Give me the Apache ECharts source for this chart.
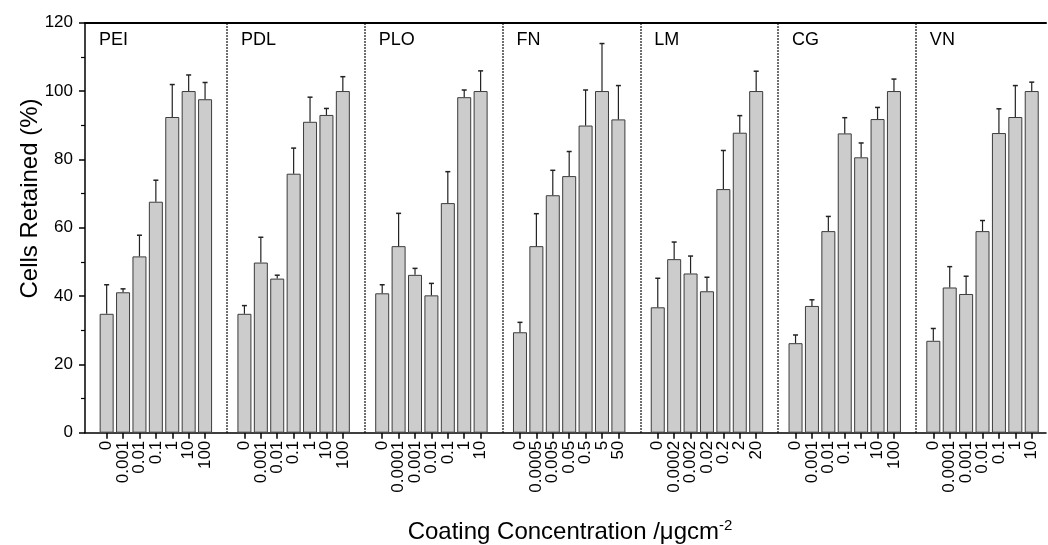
<!DOCTYPE html>
<html>
<head>
<meta charset="utf-8">
<script src="https://cdn.jsdelivr.net/npm/echarts@6/dist/echarts.min.js"></script>
<style>html,body{margin:0;padding:0;background:#fff}#c{width:1048px;height:545px}</style>
</head>
<body>
<div id="c"></div>
<script>
// ---- data ----
const panels = ['PEI', 'PDL', 'PLO', 'FN', 'LM', 'CG', 'VN'];
const concLabels = [
  ['0', '0.001', '0.01', '0.1', '1', '10', '100'],
  ['0', '0.001', '0.01', '0.1', '1', '10', '100'],
  ['0', '0.0001', '0.001', '0.01', '0.1', '1', '10'],
  ['0', '0.0005', '0.005', '0.05', '0.5', '5', '50'],
  ['0', '0.0002', '0.002', '0.02', '0.2', '2', '20'],
  ['0', '0.001', '0.01', '0.1', '1', '10', '100'],
  ['0', '0.0001', '0.001', '0.01', '0.1', '1', '10']
];
const retained = [
  [34.8, 41.1, 51.6, 67.6, 92.4, 100, 97.6],
  [34.8, 49.8, 45.1, 75.8, 91.0, 93.0, 100],
  [40.8, 54.6, 46.2, 40.2, 67.2, 98.2, 100],
  [29.4, 54.6, 69.5, 75.1, 89.9, 100, 91.7],
  [36.7, 50.8, 46.6, 41.4, 71.3, 87.8, 100],
  [26.2, 37.1, 59.0, 87.6, 80.6, 91.8, 100],
  [26.9, 42.5, 40.6, 59.0, 87.7, 92.4, 100]
];
const errors = [
  [8.5, 1.0, 6.2, 6.3, 9.5, 4.7, 4.9],
  [2.4, 7.4, 1.0, 7.5, 7.2, 1.9, 4.2],
  [2.5, 9.6, 1.9, 3.5, 9.2, 2.1, 5.9],
  [2.9, 9.5, 7.3, 7.2, 10.4, 13.9, 9.9],
  [8.5, 5.0, 5.1, 4.1, 11.3, 5.0, 5.8],
  [2.4, 1.8, 4.3, 4.6, 4.2, 3.4, 3.5],
  [3.6, 6.1, 5.2, 3.1, 7.1, 9.2, 2.6]
];
const yTicks = [0, 20, 40, 60, 80, 100, 120];

// ---- layout helpers ----
const PERIOD = 8.4;            // panel period in bar-slot units
const X_MIN = -1.32, X_MAX = 57.27;
const FONT = "'Liberation Sans', Arial, sans-serif";

const barData = [], errData = [], tickVals = [], labelMap = {};
panels.forEach((p, pi) => {
  retained[pi].forEach((v, i) => {
    const x = pi * PERIOD + i;
    barData.push([x, v]);
    errData.push([x, v, v + errors[pi][i]]);
    tickVals.push(x);
    labelMap[x.toFixed(3)] = concLabels[pi][i];
  });
});
const labelVals = [X_MIN].concat(tickVals, [X_MAX]);
const dividers = panels.slice(1).map((p, k) => k * PERIOD + 7.34);
const panelLabelData = panels.map((p, pi) => [pi === 0 ? X_MIN + 0.85 : dividers[pi - 1] + 0.85, 115, p]);

const chart = echarts.init(document.getElementById('c'), null, {renderer: 'canvas'});
chart.setOption({
  animation: false,
  backgroundColor: '#fff',
  grid: {left: 85, right: 2, top: 22.7, bottom: 112.3, containLabel: false},
  xAxis: [{
    type: 'value', min: X_MIN, max: X_MAX, position: 'bottom',
    splitLine: {show: false},
    axisLine: {show: true, onZero: false, lineStyle: {color: '#000', width: 1.5}},
    axisTick: {show: true, customValues: tickVals, length: 6, inside: false, lineStyle: {color: '#000', width: 1.5}},
    axisLabel: {
      show: true, customValues: labelVals, rotate: 90, margin: 8,
      showMinLabel: false, showMaxLabel: false, hideOverlap: false,
      fontSize: 17, color: '#000', fontFamily: FONT,
      formatter: v => labelMap[Number(v).toFixed(3)] || ''
    }
  }, {
    type: 'value', min: X_MIN, max: X_MAX, position: 'top',
    splitLine: {show: false},
    axisLine: {show: true, onZero: false, lineStyle: {color: '#000', width: 2}},
    axisTick: {show: false}, axisLabel: {show: false}
  }],
  yAxis: {
    type: 'value', min: 0, max: 120, interval: 20, position: 'left',
    splitLine: {show: false},
    axisLine: {show: true, onZero: false, lineStyle: {color: '#000', width: 1.5}},
    axisTick: {show: true, length: 6, lineStyle: {color: '#000', width: 1.5}},
    minorTick: {show: true, splitNumber: 2, length: 4, lineStyle: {color: '#000', width: 1.2}},
    axisLabel: {
      fontSize: 17, color: '#000', fontFamily: FONT, margin: 12,
      customValues: yTicks
    }
  },
  graphic: [{
    type: 'text', x: 30, y: 198.5, rotation: Math.PI / 2,
    style: {text: 'Cells Retained (%)', fontSize: 24, fontFamily: FONT, fill: '#000',
      align: 'center', verticalAlign: 'middle'}
  }, {
    type: 'text', x: 570, y: 532,
    style: {
      text: '{a|Coating Concentration /μgcm}{b|-2}',
      align: 'center', verticalAlign: 'middle',
      rich: {
        a: {fontSize: 24, fontFamily: FONT, fill: '#000', color: '#000', lineHeight: 28},
        b: {fontSize: 15, fontFamily: FONT, fill: '#000', color: '#000', verticalAlign: 'top', lineHeight: 15}
      }
    }
  }],
  series: [{
    type: 'bar', data: barData, barWidth: 14,
    itemStyle: {color: '#cccccc', borderColor: '#3c3c3c', borderWidth: 1},
    markLine: {
      silent: true, symbol: 'none', label: {show: false},
      lineStyle: {color: '#000', type: [1.5, 1.5], width: 1.5},
      data: dividers.map(d => ({xAxis: d}))
    }
  }, {
    type: 'custom', data: errData,
    renderItem: (params, api) => {
      const x = api.value(0);
      const top = api.coord([x, api.value(1)]);
      const end = api.coord([x, api.value(2)]);
      return {type: 'group', children: [
        {type: 'line', shape: {x1: top[0], y1: top[1], x2: end[0], y2: end[1]}, style: {stroke: '#222', lineWidth: 1.2}},
        {type: 'line', shape: {x1: end[0] - 2.5, y1: end[1], x2: end[0] + 2.5, y2: end[1]}, style: {stroke: '#222', lineWidth: 1.5}}
      ]};
    },
    z: 3
  }, {
    type: 'custom', data: panelLabelData,
    renderItem: (params, api) => {
      const pt = api.coord([api.value(0), api.value(1)]);
      return {type: 'text', x: pt[0], y: pt[1],
        style: {text: panelLabelData[params.dataIndex][2], fontSize: 18, fontFamily: FONT, fill: '#000',
          align: 'left', verticalAlign: 'middle'}};
    },
    z: 4
  }]
});
</script>
</body>
</html>
